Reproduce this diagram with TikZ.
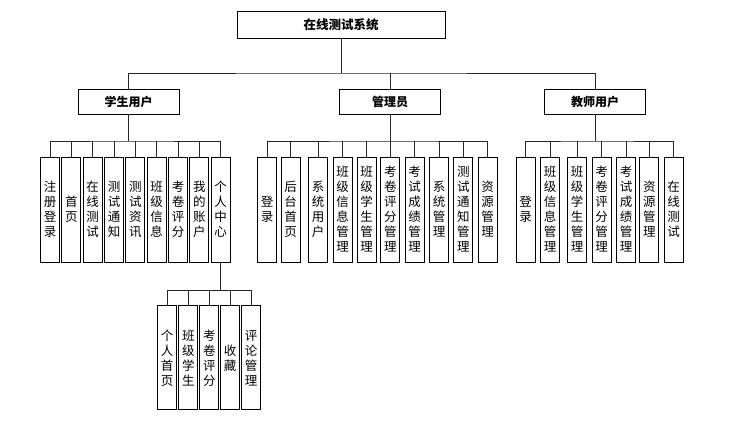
\documentclass[tikz,border=0pt]{standalone}
\usepackage{fontspec}
\newfontfamily\cjk{Noto Sans CJK SC}
\begin{document}
\begin{tikzpicture}[x=1pt,y=-1pt,
  every node/.style={font=\cjk},
  topbox/.style={draw, line width=0.9pt, minimum width=208pt, minimum height=27pt, inner sep=0pt, font=\cjk\bfseries\fontsize{12.5}{14}\selectfont},
  midbox/.style={draw, line width=0.9pt, minimum width=101pt, minimum height=25pt, inner sep=0pt, font=\cjk\bfseries\fontsize{12}{14}\selectfont},
  leafbox/.style={draw, line width=0.9pt, minimum width=19pt, minimum height=105pt, inner sep=0pt, align=center, font=\cjk\fontsize{12.5}{15}\selectfont},
  conn/.style={line width=0.9pt, draw=black!85}]
\useasboundingbox (0,0) rectangle (736,421);

\node[topbox] (root) at (341,24.5) {在线测试系统};
\node[midbox] (stu) at (128.5,101.5) {学生用户};
\node[midbox] (adm) at (390,101.5) {管理员};
\node[midbox] (tea) at (595,101.5) {教师用户};

\coordinate (rb) at (341,73);
\draw[conn] (root.south) -- (rb);
\draw[conn] (stu.north) |- (rb) -| (tea.north);
\draw[conn] (adm.north) -- (adm.north |- rb);

% student leaves
\foreach \x/\t [count=\i] in {50/{注\\册\\登\\录}, 71.3/{首\\页}, 92.7/{在\\线\\测\\试}, 114/{测\\试\\通\\知}, 135.3/{测\\试\\资\\讯}, 156.7/{班\\级\\信\\息}, 178/{考\\卷\\评\\分}, 199.3/{我\\的\\账\\户}, 220.7/{个\\人\\中\\心}}
  \node[leafbox] (s\i) at (\x,209.5) {\t};
\coordinate (sb) at (128.5,141);
\draw[conn] (stu.south) -- (sb);
\draw[conn] (s1.north) |- (sb) -| (s9.north);
\foreach \i in {2,...,8} \draw[conn] (s\i.north) -- (s\i.north |- sb);

% admin leaves
\foreach \x/\t [count=\i] in {267/{登\\录}, 290.7/{后\\台\\首\\页}, 318/{系\\统\\用\\户}, 342.5/{班\\级\\信\\息\\管\\理}, 366.7/{班\\级\\学\\生\\管\\理}, 390.3/{考\\卷\\评\\分\\管\\理}, 414.7/{考\\试\\成\\绩\\管\\理}, 439/{系\\统\\管\\理}, 463.3/{测\\试\\通\\知\\管\\理}, 487.7/{资\\源\\管\\理}}
  \node[leafbox] (a\i) at (\x,209.5) {\t};
\coordinate (ab) at (390,141);
\draw[conn] (adm.south) -- (ab);
\draw[conn] (a1.north) |- (ab) -| (a10.north);
\foreach \i in {2,...,9} \draw[conn] (a\i.north) -- (a\i.north |- ab);

% teacher leaves
\foreach \x/\t [count=\i] in {525.7/{登\\录}, 550/{班\\级\\信\\息\\管\\理}, 577/{班\\级\\学\\生\\管\\理}, 601.7/{考\\卷\\评\\分\\管\\理}, 626/{考\\试\\成\\绩\\管\\理}, 649.3/{资\\源\\管\\理}, 673.7/{在\\线\\测\\试}}
  \node[leafbox] (t\i) at (\x,209.5) {\t};
\coordinate (tb) at (595,141);
\draw[conn] (tea.south) -- (tb);
\draw[conn] (t1.north) |- (tb) -| (t7.north);
\foreach \i in {2,...,6} \draw[conn] (t\i.north) -- (t\i.north |- tb);

% personal centre leaves
\foreach \x/\t [count=\i] in {167/{个\\人\\首\\页}, 188.3/{班\\级\\学\\生}, 209.3/{考\\卷\\评\\分}, 230/{收\\藏}, 251/{评\\论\\管\\理}}
  \node[leafbox, minimum height=104pt] (p\i) at (\x,357.8) {\t};
\coordinate (pb) at (s9.south |- 0,290.7);
\draw[conn] (s9.south) -- (pb);
\draw[conn] (p1.north) |- (pb) -| (p5.north);
\foreach \i in {2,...,4} \draw[conn] (p\i.north) -- (p\i.north |- pb);
\end{tikzpicture}
\end{document}
